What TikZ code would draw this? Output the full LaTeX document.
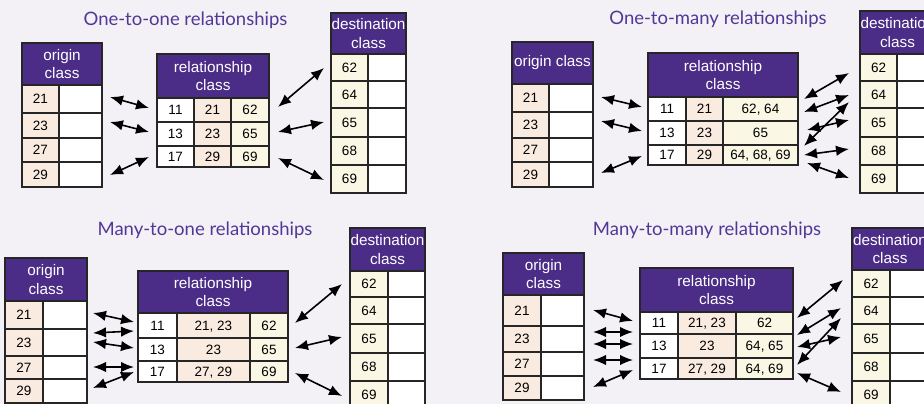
\documentclass[tikz,border=0pt]{standalone}
\usepackage{fontspec}
\setmainfont{Liberation Sans}
\newfontfamily\titlefont{Lato}
\usetikzlibrary{arrows.meta}
\definecolor{bg}{RGB}{243,241,246}
\definecolor{hdr}{RGB}{75,44,134}
\definecolor{peach}{RGB}{250,235,225}
\definecolor{ylw}{RGB}{250,248,228}
\definecolor{ttl}{RGB}{80,56,150}
\tikzset{
  cellline/.style={draw=black!85, line width=1.3pt},
  hdrtxt/.style={text=white, font=\fontsize{15.3}{18.5}\selectfont, align=center, inner sep=0pt},
  celltxt/.style={text=black, font=\fontsize{13.5}{15}\selectfont, inner sep=0pt, text height=9.6pt, text depth=0pt},
  relarrow/.style={line width=1.6pt, {Latex[length=13pt,width=10.5pt]}-{Latex[length=13pt,width=10.5pt]}},
  titletxt/.style={text=ttl, font=\titlefont\fontsize{18.5}{22}\selectfont, anchor=base}
}
\newcommand\hcell[6]{\draw[cellline,fill=hdr] (#2,#3) rectangle node[hdrtxt] (#1) {#6} (#4,#5);}
\newcommand\dcell[7]{\draw[cellline,fill=#6] (#2,#3) rectangle node[celltxt] (#1) {#7} (#4,#5);}
\newcommand\arr[5]{\coordinate (#1a) at (#2,#3); \coordinate (#1b) at (#4,#5); \draw[relarrow] (#1a) -- (#1b);}
\begin{document}
\begin{tikzpicture}[x=1pt,y=-1pt]
\useasboundingbox (0,0) rectangle (924,404);
\clip (0,0) rectangle (924,404);
\fill[bg] (0,0) rectangle (924,404);

% ================= Q1: one-to-one =================
\node[titletxt] (t1) at (185.5,26) {One-to-one relationships};
% origin
\hcell{o1h}{22}{43}{102}{85}{origin\\class}
\dcell{o1a}{22}{85}{59}{113}{peach}{21}\dcell{o1aw}{59}{85}{102}{113}{white}{}
\dcell{o1b}{22}{113}{59}{138}{peach}{23}\dcell{o1bw}{59}{113}{102}{138}{white}{}
\dcell{o1c}{22}{138}{59}{162}{peach}{27}\dcell{o1cw}{59}{138}{102}{162}{white}{}
\dcell{o1d}{22}{162}{59}{187}{peach}{29}\dcell{o1dw}{59}{162}{102}{187}{white}{}
% relationship
\hcell{r1h}{157}{54}{269}{98}{relationship\\class}
\dcell{r1a1}{157}{98}{194}{122}{white}{11}\dcell{r1a2}{194}{98}{231}{122}{peach}{21}\dcell{r1a3}{231}{98}{269}{122}{ylw}{62}
\dcell{r1b1}{157}{122}{194}{146}{white}{13}\dcell{r1b2}{194}{122}{231}{146}{peach}{23}\dcell{r1b3}{231}{122}{269}{146}{ylw}{65}
\dcell{r1c1}{157}{146}{194}{167}{white}{17}\dcell{r1c2}{194}{146}{231}{167}{peach}{29}\dcell{r1c3}{231}{146}{269}{167}{ylw}{69}
% destination
\hcell{d1h}{331}{13}{406}{54}{destination\\class}
\dcell{d1a}{331}{54}{368}{81}{ylw}{62}\dcell{d1aw}{368}{54}{406}{81}{white}{}
\dcell{d1b}{331}{81}{368}{108}{ylw}{64}\dcell{d1bw}{368}{81}{406}{108}{white}{}
\dcell{d1c}{331}{108}{368}{137}{ylw}{65}\dcell{d1cw}{368}{108}{406}{137}{white}{}
\dcell{d1d}{331}{137}{368}{165}{ylw}{68}\dcell{d1dw}{368}{137}{406}{165}{white}{}
\dcell{d1e}{331}{165}{368}{193}{ylw}{69}\dcell{d1ew}{368}{165}{406}{193}{white}{}
% arrows
\arr{q1l1}{110}{97}{149}{108}
\arr{q1l2}{110}{122}{149}{132}
\arr{q1l3}{110}{175}{149}{157}
\arr{q1r1}{278}{107}{324}{68}
\arr{q1r2}{278}{132}{324}{122}
\arr{q1r3}{278}{158}{324}{180}

% ================= Q2: one-to-many =================
\node[titletxt] (t2) at (718,25) {One-to-many relationships};
\hcell{o2h}{512}{42}{593}{84}{origin class}
\dcell{o2a}{512}{84}{549}{112}{peach}{21}\dcell{o2aw}{549}{84}{593}{112}{white}{}
\dcell{o2b}{512}{112}{549}{138}{peach}{23}\dcell{o2bw}{549}{112}{593}{138}{white}{}
\dcell{o2c}{512}{138}{549}{162}{peach}{27}\dcell{o2cw}{549}{138}{593}{162}{white}{}
\dcell{o2d}{512}{162}{549}{187}{peach}{29}\dcell{o2dw}{549}{162}{593}{187}{white}{}
\hcell{r2h}{648}{53}{798}{97}{relationship\\class}
\dcell{r2a1}{648}{97}{686}{121}{white}{11}\dcell{r2a2}{686}{97}{723}{121}{peach}{21}\dcell{r2a3}{723}{97}{798}{121}{ylw}{62, 64}
\dcell{r2b1}{648}{121}{686}{145}{white}{13}\dcell{r2b2}{686}{121}{723}{145}{peach}{23}\dcell{r2b3}{723}{121}{798}{145}{ylw}{65}
\dcell{r2c1}{648}{145}{686}{165}{white}{17}\dcell{r2c2}{686}{145}{723}{165}{peach}{29}\dcell{r2c3}{723}{145}{798}{165}{ylw}{64, 68, 69}
\hcell{d2h}{860}{11}{935}{54}{destination\\class}
\dcell{d2a}{860}{54}{897}{81}{ylw}{62}\dcell{d2aw}{897}{54}{935}{81}{white}{}
\dcell{d2b}{860}{81}{897}{108}{ylw}{64}\dcell{d2bw}{897}{81}{935}{108}{white}{}
\dcell{d2c}{860}{108}{897}{137}{ylw}{65}\dcell{d2cw}{897}{108}{935}{137}{white}{}
\dcell{d2d}{860}{137}{897}{165}{ylw}{68}\dcell{d2dw}{897}{137}{935}{165}{white}{}
\dcell{d2e}{860}{165}{897}{193}{ylw}{69}\dcell{d2ew}{897}{165}{935}{193}{white}{}
\arr{q2l1}{601}{97}{642}{107}
\arr{q2l2}{601}{121}{642}{131}
\arr{q2l3}{601}{173}{642}{156}
\arr{q2r1}{804}{99}{849}{73}
\arr{q2r2}{804}{112}{849}{95}
\arr{q2r3}{807}{130}{849}{120}
\arr{q2r4}{804}{146}{849}{102}
\arr{q2r5}{804}{155}{849}{149}
\arr{q2r6}{807}{163}{849}{178}

% ================= Q3: many-to-one =================
\node[titletxt] (t3) at (205,235) {Many-to-one relationships};
\hcell{o3h}{5}{258}{87}{301}{origin\\class}
\dcell{o3a}{5}{301}{43}{329}{peach}{21}\dcell{o3aw}{43}{301}{87}{329}{white}{}
\dcell{o3b}{5}{329}{43}{356}{peach}{23}\dcell{o3bw}{43}{329}{87}{356}{white}{}
\dcell{o3c}{5}{356}{43}{379}{peach}{27}\dcell{o3cw}{43}{356}{87}{379}{white}{}
\dcell{o3d}{5}{379}{43}{403}{peach}{29}\dcell{o3dw}{43}{379}{87}{403}{white}{}
\hcell{r3h}{138}{271}{288}{313}{relationship\\class}
\dcell{r3a1}{138}{313}{177}{338}{white}{11}\dcell{r3a2}{177}{313}{250}{338}{peach}{21, 23}\dcell{r3a3}{250}{313}{288}{338}{ylw}{62}
\dcell{r3b1}{138}{338}{177}{361}{white}{13}\dcell{r3b2}{177}{338}{250}{361}{peach}{23}\dcell{r3b3}{250}{338}{288}{361}{ylw}{65}
\dcell{r3c1}{138}{361}{177}{382}{white}{17}\dcell{r3c2}{177}{361}{250}{382}{peach}{27, 29}\dcell{r3c3}{250}{361}{288}{382}{ylw}{69}
\hcell{d3h}{350}{228}{425}{271}{destination\\class}
\dcell{d3a}{350}{271}{388}{297}{ylw}{62}\dcell{d3aw}{388}{271}{425}{297}{white}{}
\dcell{d3b}{350}{297}{388}{324}{ylw}{64}\dcell{d3bw}{388}{297}{425}{324}{white}{}
\dcell{d3c}{350}{324}{388}{353}{ylw}{65}\dcell{d3cw}{388}{324}{425}{353}{white}{}
\dcell{d3d}{350}{353}{388}{381}{ylw}{68}\dcell{d3dw}{388}{353}{425}{381}{white}{}
\dcell{d3e}{350}{381}{388}{409}{ylw}{69}\dcell{d3ew}{388}{381}{425}{409}{white}{}
\arr{q3l1}{93}{313}{134}{322}
\arr{q3l2}{93}{333}{134}{331}
\arr{q3l3}{93}{342}{134}{348}
\arr{q3l4}{93}{367}{134}{367}
\arr{q3l5}{93}{388}{134}{372}
\arr{q3r1}{295}{323}{342}{284}
\arr{q3r2}{295}{348}{342}{337}
\arr{q3r3}{295}{373}{342}{396}

% ================= Q4: many-to-many =================
\node[titletxt] (t4) at (707,235) {Many-to-many relationships};
\hcell{o4h}{503}{253}{584}{295}{origin\\class}
\dcell{o4a}{503}{295}{541}{326}{peach}{21}\dcell{o4aw}{541}{295}{584}{326}{white}{}
\dcell{o4b}{503}{326}{541}{352}{peach}{23}\dcell{o4bw}{541}{326}{584}{352}{white}{}
\dcell{o4c}{503}{352}{541}{376}{peach}{27}\dcell{o4cw}{541}{352}{584}{376}{white}{}
\dcell{o4d}{503}{376}{541}{400}{peach}{29}\dcell{o4dw}{541}{376}{584}{400}{white}{}
\hcell{r4h}{640}{268}{793}{312}{relationship\\class}
\dcell{r4a1}{640}{312}{678}{334}{white}{11}\dcell{r4a2}{678}{312}{736}{334}{peach}{21, 23}\dcell{r4a3}{736}{312}{793}{334}{ylw}{62}
\dcell{r4b1}{640}{334}{678}{358}{white}{13}\dcell{r4b2}{678}{334}{736}{358}{peach}{23}\dcell{r4b3}{736}{334}{793}{358}{ylw}{64, 65}
\dcell{r4c1}{640}{358}{678}{379}{white}{17}\dcell{r4c2}{678}{358}{736}{379}{peach}{27, 29}\dcell{r4c3}{736}{358}{793}{379}{ylw}{64, 69}
\hcell{d4h}{852}{228}{928}{270}{destination\\class}
\dcell{d4a}{852}{270}{890}{297}{ylw}{62}\dcell{d4aw}{890}{270}{928}{297}{white}{}
\dcell{d4b}{852}{297}{890}{324}{ylw}{64}\dcell{d4bw}{890}{297}{928}{324}{white}{}
\dcell{d4c}{852}{324}{890}{353}{ylw}{65}\dcell{d4cw}{890}{324}{928}{353}{white}{}
\dcell{d4d}{852}{353}{890}{381}{ylw}{68}\dcell{d4dw}{890}{353}{928}{381}{white}{}
\dcell{d4e}{852}{381}{890}{409}{ylw}{69}\dcell{d4ew}{890}{381}{928}{409}{white}{}
\arr{q4l1}{593}{310}{633}{321}
\arr{q4l2}{593}{332}{633}{332}
\arr{q4l3}{593}{344}{633}{344}
\arr{q4l4}{593}{360}{633}{360}
\arr{q4l5}{593}{387}{633}{370}
\arr{q4r1}{797}{318}{843}{280}
\arr{q4r2}{797}{335}{841}{308}
\arr{q4r3}{797}{347}{841}{337}
\arr{q4r4}{797}{365}{841}{318}
\arr{q4r5}{797}{373}{841}{392}
\end{tikzpicture}
\end{document}
